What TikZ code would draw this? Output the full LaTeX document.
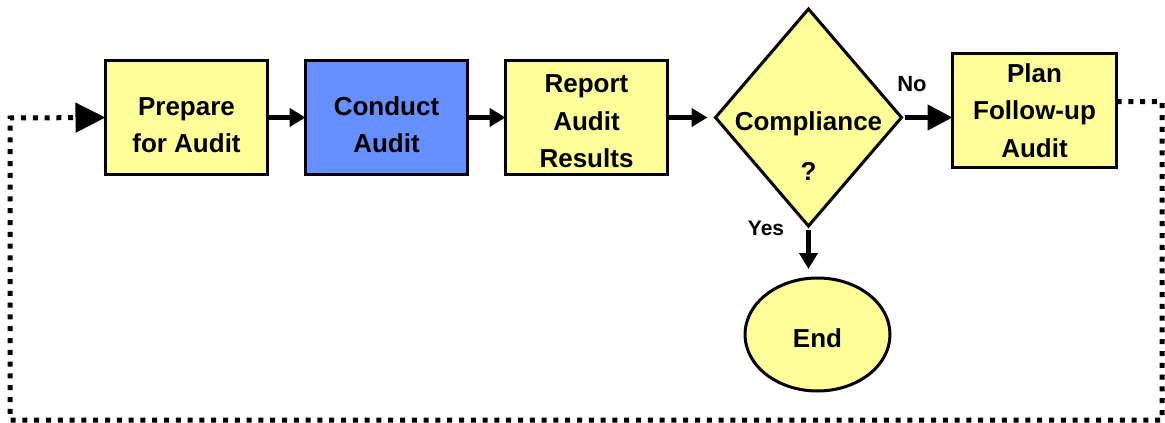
\documentclass[tikz,border=0pt]{standalone}
\usepackage{fontspec}
\setmainfont{Liberation Sans}
\usetikzlibrary{positioning,shapes.geometric,arrows.meta}
\definecolor{boxyellow}{HTML}{FFFF99}
\definecolor{boxblue}{HTML}{6690FF}
\newcommand{\padtop}[1]{\rule{0pt}{#1}}
\tikzset{
	stepbox/.style={draw,line width=3pt,fill=boxyellow,minimum width=162pt,minimum height=114pt,align=center,inner sep=0pt,outer sep=0pt},
	flow/.style={line width=4.5pt,-{Triangle[length=16pt,width=18pt]}},
	bigflow/.style={line width=4.5pt,-{Triangle[length=25pt,width=25pt]}},
	loopback/.style={line width=5pt,dash pattern=on 5pt off 6.8pt,-{Triangle[length=30pt,width=29pt]}},
}

\begin{document}
\begin{tikzpicture}[x=1pt,y=-1pt,node distance=38pt,font=\fontsize{26}{37.5}\selectfont\bfseries]
				\useasboundingbox (0,0) rectangle (1165,423);
				\node(prep) [stepbox] at (186.5,117.5) {\padtop{33pt}Prepare\\for Audit};
				\node(cond)       [stepbox,fill=boxblue,right=of prep] {\padtop{33pt}Conduct\\Audit};
				\node(rep)        [stepbox,right=of cond] {\padtop{26pt}Report\\Audit\\Results};
				\node(comp)       [diamond,draw,line width=3pt,fill=boxyellow,minimum width=186pt,minimum height=217pt,inner sep=0pt,outer sep=0pt,right=48pt of rep] {};
				\node(compq)      at ([yshift=-29pt]comp.center) [align=center] {Compliance\\[12.5pt]?};
				\node(plan)       [stepbox,minimum width=164pt,right=51pt of comp,yshift=7pt] {Plan\\Follow-up\\Audit};
				\node(done)       [ellipse,draw,line width=3pt,fill=boxyellow,minimum width=145pt,minimum height=113pt,outer sep=0pt,below=52pt of comp,xshift=9pt] {\padtop{26pt}End};
				\node(no)   at (912,84)  [font=\fontsize{22}{26}\selectfont\bfseries] {No};
				\node(yes)  at (766,228) [font=\fontsize{21}{25}\selectfont\bfseries] {Yes};
				\coordinate(loopse) at (1162,420);
				\coordinate(loopsw) at (10,118);
			 	\draw[flow] (prep) -- (cond);
			 	\draw[flow] (cond) -- (rep);
			 	\draw[flow,shorten >=8pt] (rep) -- (comp.west);
			 	\draw[bigflow,shorten <=3pt] (comp.east) -- (comp.east -| plan.west);
			 	\draw[flow,shorten <=4pt,shorten >=9pt] (comp.south) -- (comp.south |- done.north);
			 	\draw[loopback] ([yshift=9pt]plan.east) -| (loopse) -| (loopsw) -- (prep.west);
			\end{tikzpicture}
\end{document}
